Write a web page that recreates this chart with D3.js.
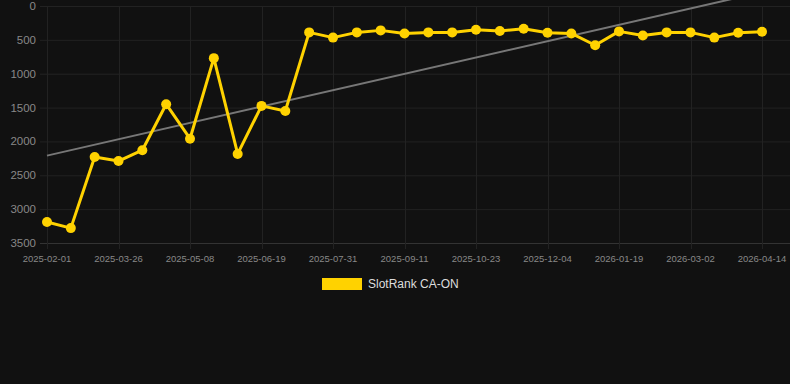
<!DOCTYPE html>
<html>
<head>
<meta charset="utf-8">
<script src="https://d3js.org/d3.v7.min.js"></script>
<style>
  body { margin: 0; background: #111111; }
  svg { display: block; font-family: "Liberation Sans", Arial, sans-serif; }
</style>
</head>
<body>
<script>
// dates (category axis, every 3rd shown)
var dates = ["2025-02-01","2025-02-19","2025-03-08","2025-03-26","2025-04-09","2025-04-23",
  "2025-05-08","2025-05-22","2025-06-05","2025-06-19","2025-07-03","2025-07-17",
  "2025-07-31","2025-08-14","2025-08-28","2025-09-11","2025-09-25","2025-10-09",
  "2025-10-23","2025-11-06","2025-11-20","2025-12-04","2025-12-19","2026-01-03",
  "2026-01-19","2026-02-02","2026-02-16","2026-03-02","2026-03-16","2026-03-31","2026-04-14"];
var ranks = [3190, 3280, 2230, 2290, 2130, 1450, 1960, 770, 2185, 1475, 1550, 390,
  467, 390, 360, 405, 390, 390, 350, 370, 335, 395, 405, 580, 375, 435, 390, 390, 467, 395, 380];
var trendEnds = [2210, -205];
var yTicks = [0, 500, 1000, 1500, 2000, 2500, 3000, 3500];
var seriesName = "SlotRank CA-ON";

var W = 790, H = 384;
var svg = d3.select("body").append("svg").attr("width", W).attr("height", H);
svg.append("rect").attr("width", W).attr("height", H).attr("fill", "#111111");

var x = d3.scalePoint().domain(dates).range([47, 762]);
var y = d3.scaleLinear().domain([0, 3500]).range([6, 243]);

// grid
svg.append("g").selectAll("line").data(yTicks).enter().append("line")
  .attr("x1", 40).attr("x2", W)
  .attr("y1", function(d) { return y(d) + 0.5; }).attr("y2", function(d) { return y(d) + 0.5; })
  .attr("stroke", function(d) { return d === 3500 ? "#333" : "#222"; }).attr("stroke-width", 1);

var shown = dates.filter(function(d, i) { return i % 3 === 0; });
svg.append("g").selectAll("line").data(shown).enter().append("line")
  .attr("x1", function(d) { return Math.round(x(d)) + 0.5; })
  .attr("x2", function(d) { return Math.round(x(d)) + 0.5; })
  .attr("y1", 6).attr("y2", 249)
  .attr("stroke", "#222").attr("stroke-width", 1);

// y labels
svg.append("g").selectAll("text").data(yTicks).enter().append("text")
  .attr("x", 36).attr("y", function(d) { return y(d); })
  .attr("dy", "0.35em").attr("text-anchor", "end")
  .attr("fill", "#888").attr("font-size", 11.5)
  .text(function(d) { return d; });

// x labels
svg.append("g").selectAll("text").data(shown).enter().append("text")
  .attr("x", function(d) { return x(d); }).attr("y", 259)
  .attr("dy", "0.35em").attr("text-anchor", "middle")
  .attr("fill", "#888").attr("font-size", 9.5)
  .text(function(d) { return d; });

// trend line
svg.append("line")
  .attr("x1", x(dates[0])).attr("y1", y(trendEnds[0]))
  .attr("x2", x(dates[dates.length - 1])).attr("y2", y(trendEnds[1]))
  .attr("stroke", "#777").attr("stroke-width", 2);

// series
var line = d3.line()
  .x(function(d, i) { return x(dates[i]); })
  .y(function(d) { return y(d); });
svg.append("path").datum(ranks).attr("d", line)
  .attr("fill", "none").attr("stroke", "#FFD200").attr("stroke-width", 3)
  .attr("stroke-linejoin", "round");
svg.append("g").selectAll("circle").data(ranks).enter().append("circle")
  .attr("cx", function(d, i) { return x(dates[i]); })
  .attr("cy", function(d) { return y(d); })
  .attr("r", 5).attr("fill", "#FFD200");

// legend
svg.append("rect").attr("x", 322).attr("y", 278).attr("width", 40).attr("height", 12)
  .attr("fill", "#FFD200");
svg.append("text").attr("x", 368).attr("y", 284).attr("dy", "0.35em")
  .attr("fill", "#ddd").attr("font-size", 12).text(seriesName);
</script>
</body>
</html>
